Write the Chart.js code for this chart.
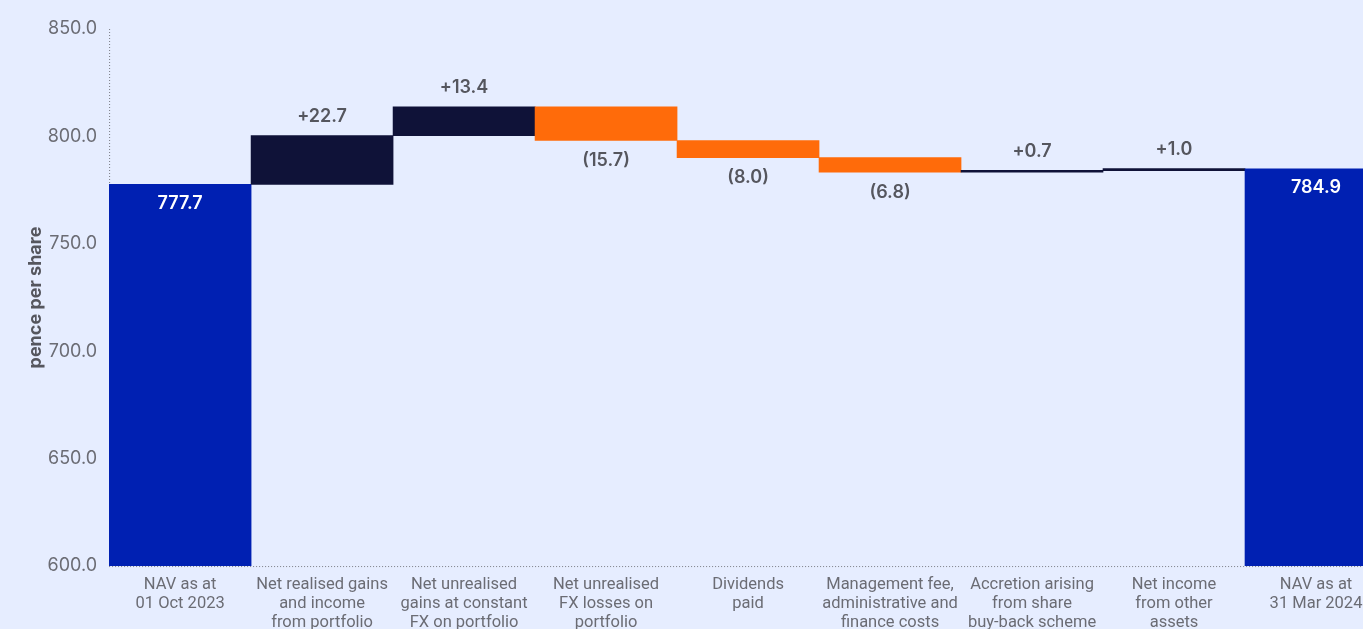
<!DOCTYPE html>
<html>
<head>
<meta charset="utf-8">
<script src="https://cdn.jsdelivr.net/npm/chart.js@4.4.0/dist/chart.umd.min.js"></script>
<style>
  html, body { margin: 0; padding: 0; background: #E6EDFF; overflow: hidden; }
  #wrap { width: 1388px; height: 641px; }
</style>
</head>
<body>
<div id="wrap"><canvas id="navChart"></canvas></div>
<script>
// Chart data
const categories = [
    ['NAV as at', '01 Oct 2023'],
    ['Net realised gains', 'and income', 'from portfolio'],
    ['Net unrealised', 'gains at constant', 'FX on portfolio'],
    ['Net unrealised', 'FX losses on', 'portfolio'],
    ['Dividends', 'paid'],
    ['Management fee,', 'administrative and', 'finance costs'],
    ['Accretion arising', 'from share', 'buy-back scheme'],
    ['Net income', 'from other', 'assets'],
    ['NAV as at', '31 Mar 2024']
];
const movements = [777.7, 22.7, 13.4, -15.7, -8.0, -6.8, 0.7, 1.0, 784.9];
const isTotal = [true, false, false, false, false, false, false, false, true];
const yTicks = [600, 650, 700, 750, 800, 850];

const BLUE = '#0020B2';
const NAVY = '#0F1238';
const ORANGE = '#FF6B0A';

// Build floating bar ranges from the running total
let running = 0;
const ranges = movements.map((v, i) => {
    if (isTotal[i]) {
        running = v;
        return [600, v];
    }
    const start = running;
    running = running + v;
    return [start, running];
});
const colours = movements.map((v, i) => isTotal[i] ? BLUE : (v >= 0 ? NAVY : ORANGE));

function labelText(v, i) {
    if (isTotal[i]) return v.toFixed(1);
    return v >= 0 ? '+' + v.toFixed(1) : '(' + Math.abs(v).toFixed(1) + ')';
}

/**
 * Dotted axis lines along the left and bottom of the plot
 */
const dottedAxes = {
    id: 'dottedAxes',
    beforeDatasetsDraw(chart) {
        const { ctx, chartArea } = chart;
        ctx.save();
        ctx.strokeStyle = '#7A7B84';
        ctx.lineWidth = 1;
        ctx.setLineDash([1, 2]);
        ctx.beginPath();
        ctx.moveTo(chartArea.left + 0.5, chartArea.top);
        ctx.lineTo(chartArea.left + 0.5, chartArea.bottom);
        ctx.moveTo(chartArea.left, chartArea.bottom + 0.5);
        ctx.lineTo(chartArea.right, chartArea.bottom + 0.5);
        ctx.stroke();
        ctx.restore();
    }
};

/**
 * Draw the value labels next to each bar
 */
const valueLabels = {
    id: 'valueLabels',
    afterDatasetsDraw(chart) {
        const ctx = chart.ctx;
        const meta = chart.getDatasetMeta(0);
        ctx.save();
        ctx.font = '600 18px Inter, "Noto Sans", sans-serif';
        ctx.textAlign = 'center';
        ctx.textBaseline = 'middle';
        meta.data.forEach((bar, i) => {
            const v = movements[i];
            const top = Math.min(bar.y, bar.base);
            const bottom = Math.max(bar.y, bar.base);
            if (isTotal[i]) {
                ctx.fillStyle = '#ffffff';
                ctx.fillText(labelText(v, i), bar.x, top + 19);
            } else if (v >= 0) {
                ctx.fillStyle = '#55565E';
                ctx.fillText(labelText(v, i), bar.x, top - 19);
            } else {
                ctx.fillStyle = '#55565E';
                ctx.fillText(labelText(v, i), bar.x, bottom + 20);
            }
        });
        ctx.restore();
    }
};

new Chart(document.getElementById('navChart'), {
    type: 'bar',
    data: {
        labels: categories,
        datasets: [{
            data: ranges,
            backgroundColor: colours,
            borderWidth: 0,
            borderSkipped: false,
            barPercentage: 1.0,
            categoryPercentage: 1.0,
            minBarLength: 2
        }]
    },
    options: {
        responsive: true,
        maintainAspectRatio: false,
        animation: false,
        layout: { padding: { top: 29, right: 1, left: 25, bottom: 0 } },
        plugins: {
            legend: { display: false },
            tooltip: { enabled: false }
        },
        scales: {
            x: {
                grid: { display: false, drawTicks: false },
                border: { display: false },
                ticks: {
                    color: '#6B6C74',
                    font: { family: 'Roboto, Inter, sans-serif', size: 16.5, lineHeight: 1.15 },
                    padding: 9,
                    maxRotation: 0,
                    autoSkip: false
                }
            },
            y: {
                min: 600,
                max: 850,
                afterBuildTicks(axis) {
                    axis.ticks = yTicks.map(v => ({ value: v }));
                },
                grid: { display: false, drawTicks: false },
                border: { display: false },
                ticks: {
                    color: '#6B6C74',
                    font: { family: 'Inter, "Noto Sans", sans-serif', size: 18 },
                    padding: 12,
                    callback: v => Number(v).toFixed(1)
                },
                title: {
                    display: true,
                    text: 'pence per share',
                    color: '#55565E',
                    font: { family: 'Inter, "Noto Sans", sans-serif', size: 18, weight: '700' },
                    padding: { top: 0, bottom: -11 }
                }
            }
        }
    },
    plugins: [dottedAxes, valueLabels]
});
</script>
</body>
</html>
